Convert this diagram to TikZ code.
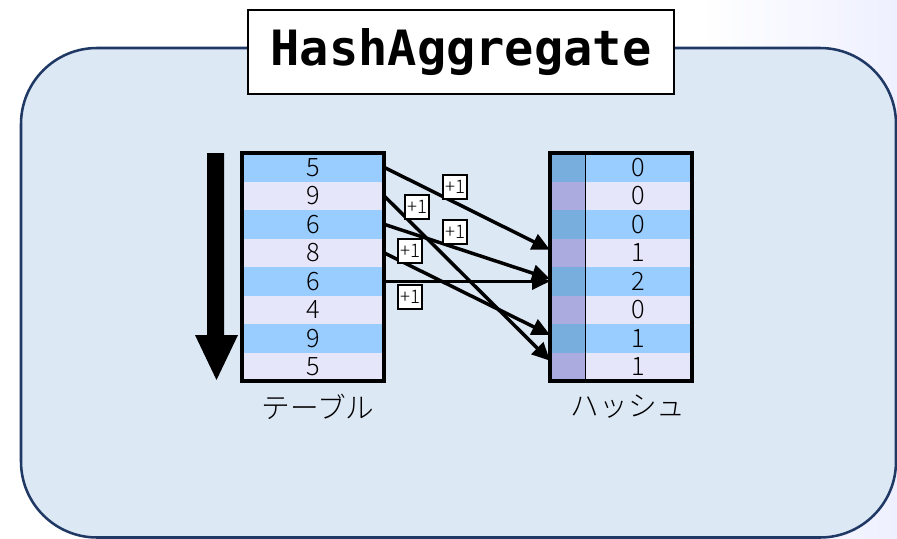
\documentclass[tikz,border=0pt]{standalone}
\usepackage{fontspec}
\setmainfont{Noto Sans CJK JP}[UprightFont={* Light}, BoldFont={* Bold}]
\newfontfamily\titlefont{DejaVu Sans Mono}
\usetikzlibrary{arrows.meta}

\definecolor{rowblue}{HTML}{99CCFF}
\definecolor{rowlav}{HTML}{E6E6FA}
\definecolor{keyblue}{HTML}{77AEDE}
\definecolor{keylav}{HTML}{ABABDF}
\definecolor{panelfill}{HTML}{DDE8F5}
\definecolor{panelline}{HTML}{1F3864}
\definecolor{bgtint}{HTML}{EEF0FF}

\tikzset{
  panel/.style={fill=panelfill, draw=panelline, line width=1.9pt, rounded corners=57pt},
  titlebox/.style={draw=black, fill=white, line width=1.3pt, minimum width=319.5pt,
    minimum height=63pt, inner sep=0pt, font=\titlefont\bfseries\fontsize{36.5}{40}\selectfont},
  tcell/.style={minimum width=106.5pt, minimum height=21.375pt, inner sep=0pt, outer sep=0pt,
    font=\fontsize{19}{20}\selectfont},
  kcell/.style={minimum width=26.25pt, minimum height=21.375pt, inner sep=0pt, outer sep=0pt},
  vcell/.style={minimum width=80.25pt, minimum height=21.375pt, inner sep=0pt, outer sep=0pt,
    font=\fontsize{19}{20}\selectfont},
  frame/.style={draw=black, line width=2.9pt},
  flow/.style={draw=black, line width=2.6pt, -{Triangle[length=13.5pt, width=12.5pt]}},
  plusone/.style={draw=black, fill=white, line width=1.3pt, minimum size=18pt, inner sep=0pt,
    font=\fontsize{14}{15}\selectfont},
  caption/.style={font=\fontsize{21.5}{23}\selectfont, inner sep=0pt}
}

\begin{document}
\begin{tikzpicture}[x=0.75pt, y=-0.75pt]
  \useasboundingbox (0,0) rectangle (897,539);
  % slide background with a faint tint towards the right
  \fill[white] (0,0) rectangle (897,539);
  \shade[left color=white, right color=bgtint] (700,0) rectangle (897,539);

  % rounded panel
  \draw[panel] (21,48) rectangle (896,537.5);

  % title
  \node[titlebox] (title) at (461,52) {HashAggregate};

  % scan direction arrow
  \fill[black] (207,153) -- (224,153) -- (224,335) -- (238,335) -- (216.5,380)
    -- (195,335) -- (207,335) -- cycle;

  % input table
  \foreach \v/\c [count=\i] in {5/rowblue,9/rowlav,6/rowblue,8/rowlav,6/rowblue,4/rowlav,9/rowblue,5/rowlav}
    \node[tcell, fill=\c] (t\i) at (313,{153+28.5*(\i-0.5)}) {\v};
  \draw[frame] (t1.north west) rectangle (t8.south east);
  \node[caption] (tlabel) at (318,407) {テーブル};

  % hash table: key column and counter column
  \foreach \v/\c/\k [count=\i] in {0/rowblue/keyblue,0/rowlav/keylav,0/rowblue/keyblue,1/rowlav/keylav,
      2/rowblue/keyblue,0/rowlav/keylav,1/rowblue/keyblue,1/rowlav/keylav}{
    \node[kcell, fill=\k] (k\i) at (567.5,{153+28.5*(\i-0.5)}) {};
    \node[vcell, fill=\c] (h\i) at (638.5,{153+28.5*(\i-0.5)}) {\v};
  }
  \draw[black, line width=0.75pt] (k1.north east) -- (k8.south east);
  \draw[frame] (k1.north west) rectangle (h8.south east);
  \node[caption] (hlabel) at (628,407) {ハッシュ};

  % increments
  \draw[flow] (t1.east) -- ([yshift=2.2pt]k4.west);
  \draw[flow] (t2.east) -- ([yshift=4.5pt]k8.west);
  \draw[flow] (t3.east) -- ([yshift=1.8pt]k5.west);
  \draw[flow] (t4.east) -- ([yshift=2.5pt]k7.west);
  \draw[flow] (t5.east) -- (k5.west);

  \node[plusone] (p1) at (455,187) {+1};
  \node[plusone] (p2) at (417,207) {+1};
  \node[plusone] (p3) at (455,232) {+1};
  \node[plusone] (p4) at (410,251) {+1};
  \node[plusone] (p5) at (410,297) {+1};
\end{tikzpicture}
\end{document}
